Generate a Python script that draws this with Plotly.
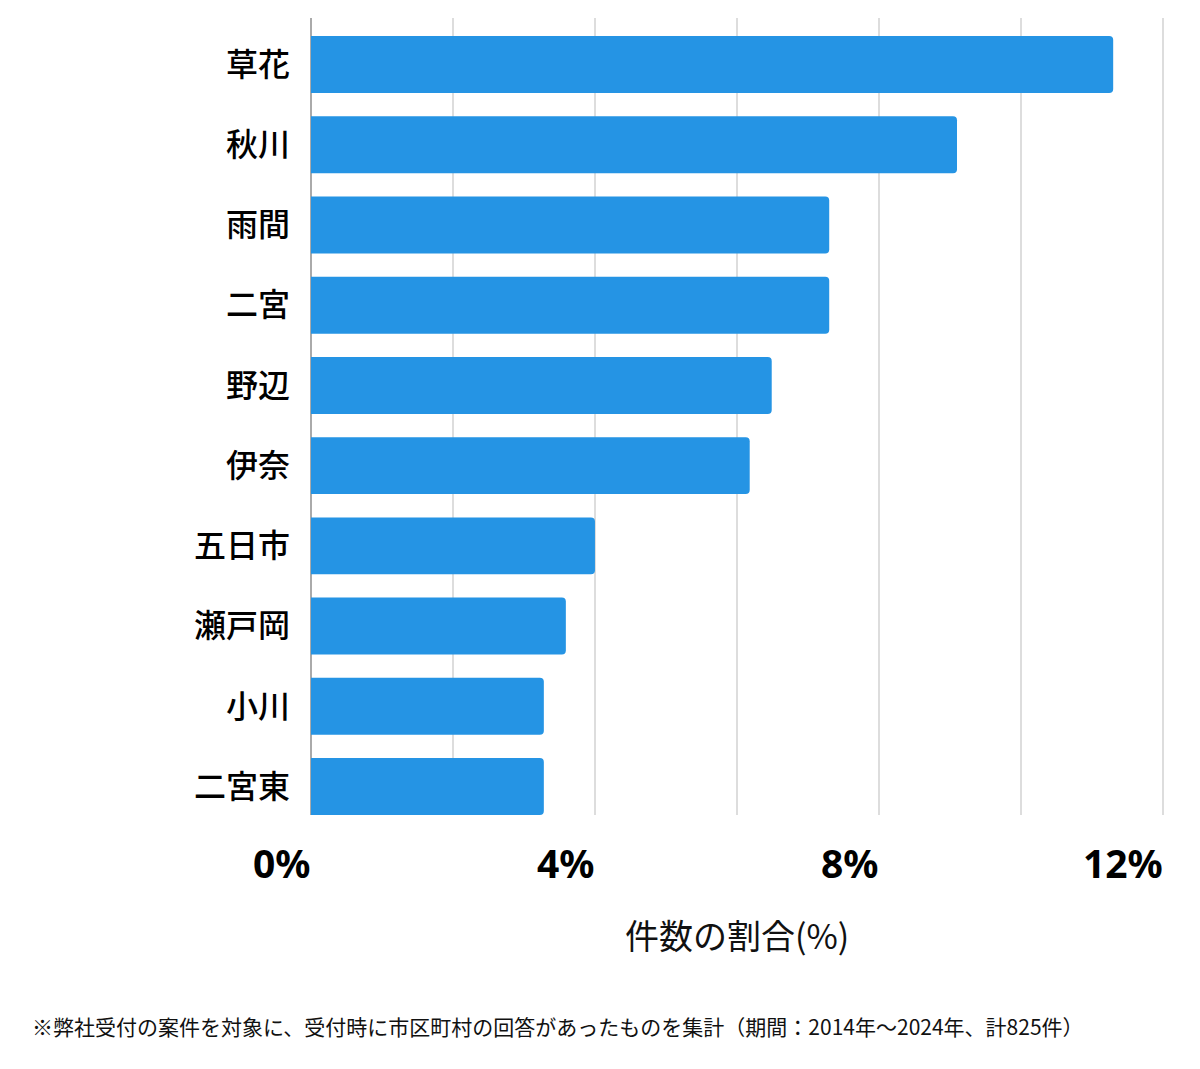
import plotly.graph_objects as go

categories = ["草花", "秋川", "雨間", "二宮", "野辺", "伊奈", "五日市", "瀬戸岡", "小川", "二宮東"]
values = [11.3, 9.1, 7.3, 7.3, 6.49, 6.18, 4.0, 3.59, 3.28, 3.28]
grid_vals = [0, 2, 4, 6, 8, 10, 12]
label_vals = [0, 4, 8, 12]
label_text = ["0%", "4%", "8%", "12%"]
axis_title = "件数の割合(%)"
footnote = "※弊社受付の案件を対象に、受付時に市区町村の回答があったものを集計（期間：2014年～2024年、計825件）"

OFF = 8  # page body margin
X_MAX = 12.03
PX_PER_UNIT = (1163 - 311) / 12
W, H = 1200 - 2 * OFF, 1069 - 2 * OFF
L = 311 - OFF
R = 1200 - OFF - (311 + X_MAX * PX_PER_UNIT)
T = 18 - OFF
B = (1069 - OFF) - 815.5
plot_h = H - T - B
plot_w = W - L - R

def py(pix):
    return ((1069 - OFF - B) - pix) / plot_h

fig = go.Figure(go.Bar(
    x=values, y=categories, orientation="h",
    marker=dict(color="#2594e4", cornerradius=4, line=dict(width=0)),
    hoverinfo="skip",
))

annotations = []
for v, t in zip(label_vals, label_text):
    annotations.append(dict(
        x=v, xref="x", y=py(863), yref="paper", text=t, showarrow=False,
        xanchor="right", yanchor="middle", xshift=2,
        font=dict(family="Noto Sans", size=39, color="#000000", weight="bold"),
    ))
annotations.append(dict(
    x=(737 - 311) / plot_w, xref="paper", y=py(935), yref="paper", text=axis_title,
    showarrow=False, xanchor="center", yanchor="middle",
    font=dict(family="Noto Sans CJK JP", size=34, color="#111111"),
))
annotations.append(dict(
    x=(30 - 311) / plot_w, xref="paper", y=py(1027), yref="paper", text=footnote,
    showarrow=False, xanchor="left", yanchor="middle",
    font=dict(family="Noto Sans CJK JP", size=21, color="#111111"),
))

fig.update_layout(
    width=W, height=H,
    margin=dict(l=L, r=R, t=T, b=B, pad=0),
    paper_bgcolor="white", plot_bgcolor="white",
    bargap=0.29,
    showlegend=False,
    xaxis=dict(
        range=[0, X_MAX], tickvals=grid_vals, showticklabels=False,
        showgrid=True, gridcolor="#dddddd", gridwidth=1.5,
        zeroline=True, zerolinecolor="#aaaaaa", zerolinewidth=2,
        showline=False, ticks="", fixedrange=True,
    ),
    yaxis=dict(
        type="category", categoryorder="array", categoryarray=categories,
        range=[9.355, -0.58], showgrid=False, zeroline=False, showline=False,
        ticks="", ticklabelstandoff=20,
        tickfont=dict(family="Noto Sans CJK JP", size=32, color="#000000", weight=500),
        fixedrange=True,
    ),
    annotations=annotations,
)

fig.write_html("out.html")
